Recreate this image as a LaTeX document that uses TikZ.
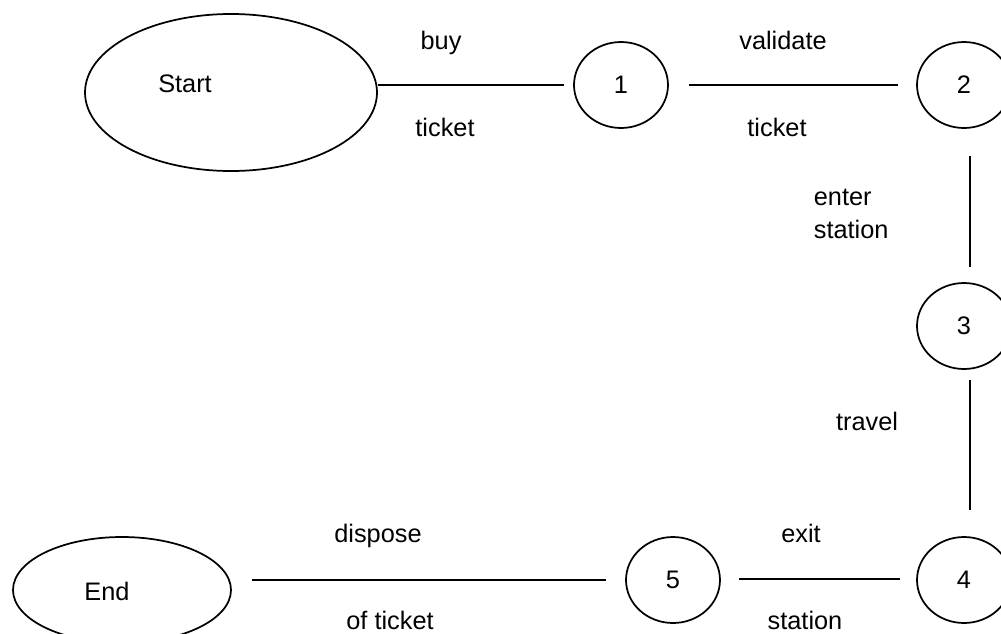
\documentclass[tikz,border=0pt]{standalone}
\usepackage{fontspec}
\setmainfont{Liberation Sans}
\usetikzlibrary{shapes.geometric,calc}
\begin{document}
\begin{tikzpicture}[x=0.75pt,y=-0.75pt, line width=1.3pt,
  state/.style={draw, ellipse, inner sep=0pt, minimum width=70.5pt, minimum height=64.5pt, font=\fontsize{19}{23}\selectfont},
  txt/.style={inner sep=0pt, anchor=base, font=\fontsize{19}{23}\selectfont},
  ltxt/.style={txt, anchor=base west},
  conn/.style={draw, line cap=butt}]
\useasboundingbox (0,0) rectangle (1001,633);
\clip (0,0) rectangle (1001,633);
% nodes
\node[state, minimum width=219pt, minimum height=117.75pt] (start) at (231,92.5) {};
\node[txt] (starttext) at (185,92) {Start};
\node[state] (s1) at (621,85) {1};
\node[state] (s2) at (964,85) {2};
\node[state] (s3) at (964,326) {3};
\node[state] (s4) at (964,580) {4};
\node[state] (s5) at (673,580) {5};
\node[state, minimum width=163.5pt, minimum height=79.5pt] (endn) at (122,590) {};
\node[txt] (endtext) at (107,600) {End};
% connectors
\draw[conn, shorten >=9*0.75pt] (start.east |- s1.west) -- (s1.west);
\draw[conn, shorten <=20*0.75pt, shorten >=18*0.75pt] (s1.east) -- (s2.west);
\draw[conn, shorten <=27*0.75pt, shorten >=15*0.75pt] ($(s2.south)+(6,0)$) -- ($(s3.north)+(6,0)$);
\draw[conn, shorten <=10*0.75pt, shorten >=26*0.75pt] ($(s3.south)+(6,0)$) -- ($(s4.north)+(6,0)$);
\draw[conn, shorten <=16*0.75pt, shorten >=18*0.75pt] ($(s4.west)+(0,-1)$) -- ($(s5.east)+(0,-1)$);
\draw[conn, shorten <=19*0.75pt, shorten >=20*0.75pt] (s5.west) -- (s5.west -| endn.east);
% labels
\node[txt] (l1a) at (441,49) {buy};
\node[txt] (l1b) at (445,136) {ticket};
\node[txt] (l2a) at (783,49) {validate};
\node[txt] (l2b) at (777,136) {ticket};
\node[ltxt] (l3a) at (813,205) {enter};
\node[ltxt] (l3b) at (813,238) {station};
\node[txt] (l4) at (867,430) {travel};
\node[txt] (l5a) at (801,542) {exit};
\node[txt] (l5b) at (805,629) {station};
\node[txt] (l6a) at (378,542) {dispose};
\node[txt] (l6b) at (390,629) {of ticket};
\end{tikzpicture}
\end{document}
